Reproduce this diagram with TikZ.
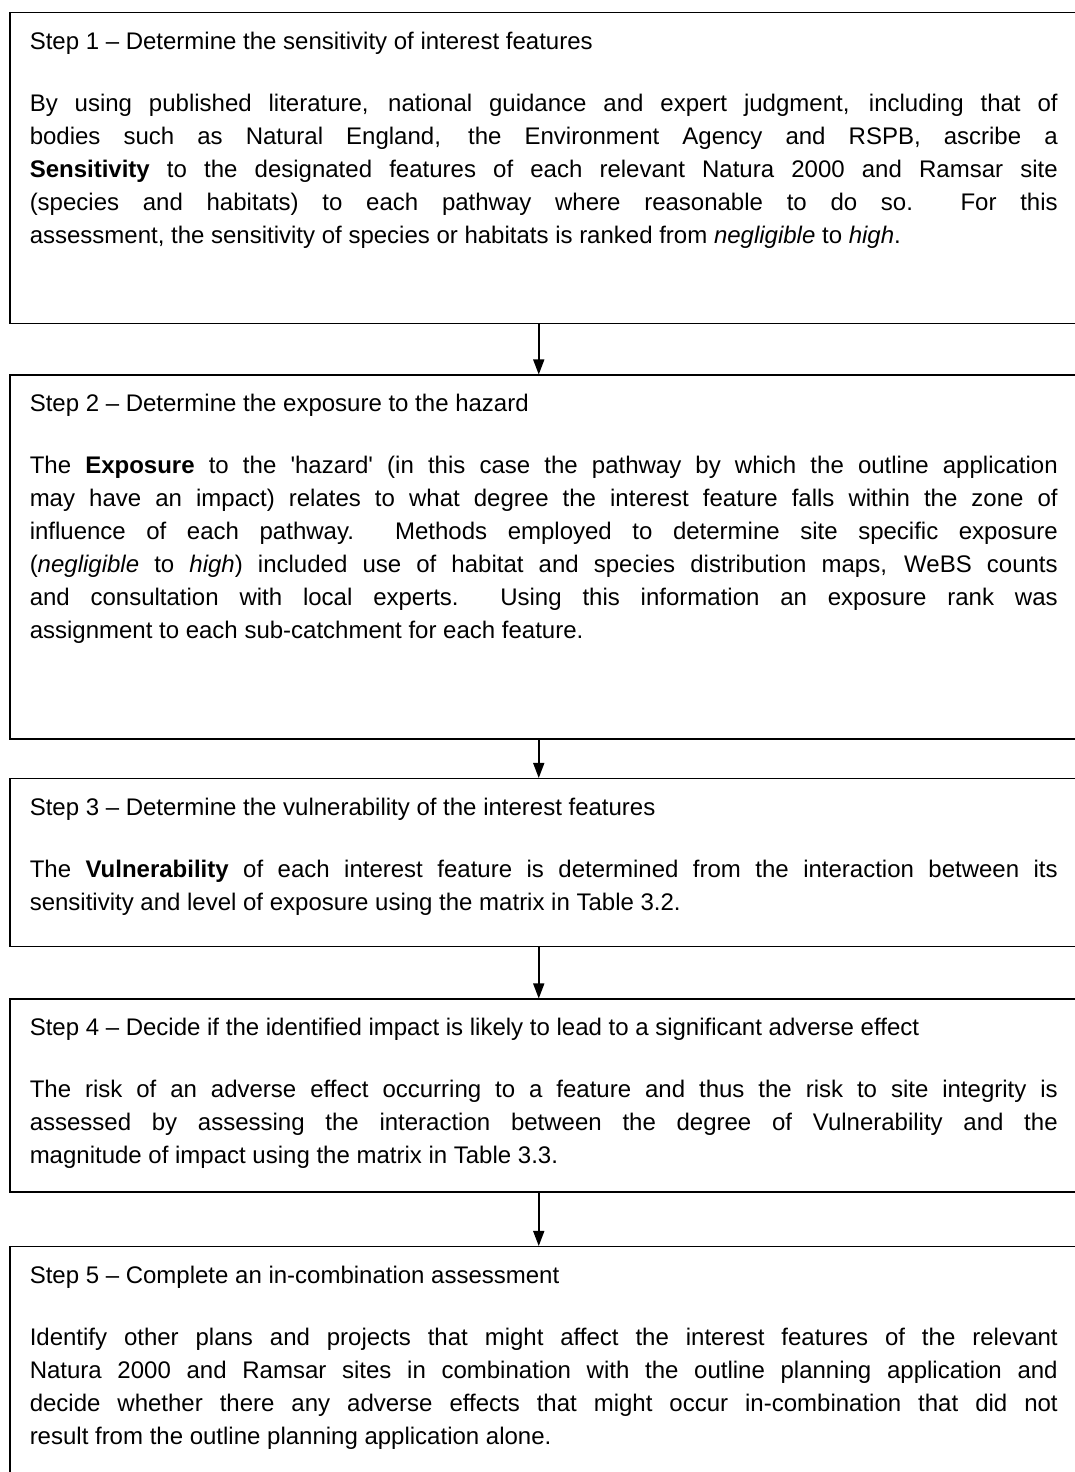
\documentclass[tikz,border=0pt]{standalone}
\usepackage{fontspec}
\setmainfont{Liberation Sans}
\usetikzlibrary{arrows.meta, positioning}

% text of one step: heading, gap, body
\newcommand{\steptext}[3]{\parbox[t][#1][t]{1028pt}{#2\par\vspace{29pt}#3}\hspace*{4pt}}

\begin{document}
\begin{tikzpicture}[
    x=1pt, y=1pt,
    stepbox/.style={rectangle, draw, line width=1.5pt, inner xsep=20pt, inner ysep=19pt,
                    font=\fontsize{24}{33}\selectfont},
    myarrow/.style={-{Triangle[length=15pt, width=11pt]}, line width=1.5pt}
]
\clip (0,0) rectangle (1075,1472);

% Steps
\node[stepbox, anchor=north west] (step1) at (9,1460) {\steptext{273pt}
  {Step 1 – Determine the sensitivity of interest features}
  {By using published literature, national guidance and expert judgment, including that of\linebreak
   bodies such as Natural England, the Environment Agency and RSPB, ascribe a\linebreak
   \textbf{Sensitivity} to the designated features of each relevant Natura 2000 and Ramsar site\linebreak
   (species and habitats) to each pathway where reasonable to do so.\ \ For this\linebreak
   assessment, the sensitivity of species or habitats is ranked from \textit{negligible} to \textit{high}.}};

\node[stepbox, below=50pt of step1] (step2) {\steptext{326pt}
  {Step 2 – Determine the exposure to the hazard}
  {The \textbf{Exposure} to the \textquotesingle hazard\textquotesingle\ (in this case the pathway by which the outline application\linebreak
   may have an impact) relates to what degree the interest feature falls within the zone of\linebreak
   influence of each pathway.\ \ Methods employed to determine site specific exposure\linebreak
   (\textit{negligible} to \textit{high}) included use of habitat and species distribution maps, WeBS counts\linebreak
   and consultation with local experts.\ \ Using this information an exposure rank was\linebreak
   assignment to each sub-catchment for each feature.}};

\node[stepbox, below=38pt of step2] (step3) {\steptext{130pt}
  {Step 3 – Determine the vulnerability of the interest features}
  {The \textbf{Vulnerability} of each interest feature is determined from the interaction between its\linebreak
   sensitivity and level of exposure using the matrix in Table 3.2.}};

\node[stepbox, below=51pt of step3] (step4) {\steptext{155pt}
  {Step 4 – Decide if the identified impact is likely to lead to a significant adverse effect}
  {The risk of an adverse effect occurring to a feature and thus the risk to site integrity is\linebreak
   assessed by assessing the interaction between the degree of Vulnerability and the\linebreak
   magnitude of impact using the matrix in Table 3.3.}};

\node[stepbox, below=53pt of step4] (step5) {\steptext{232pt}
  {Step 5 – Complete an in-combination assessment}
  {Identify other plans and projects that might affect the interest features of the relevant\linebreak
   Natura 2000 and Ramsar sites in combination with the outline planning application and\linebreak
   decide whether there any adverse effects that might occur in-combination that did not\linebreak
   result from the outline planning application alone.}};

% Arrows
\draw[myarrow] ([xshift=-7pt]step1.south) -- ([xshift=-7pt]step2.north);
\draw[myarrow] ([xshift=-7pt]step2.south) -- ([xshift=-7pt]step3.north);
\draw[myarrow] ([xshift=-7pt]step3.south) -- ([xshift=-7pt]step4.north);
\draw[myarrow] ([xshift=-7pt]step4.south) -- ([xshift=-7pt]step5.north);

\end{tikzpicture}
\end{document}
